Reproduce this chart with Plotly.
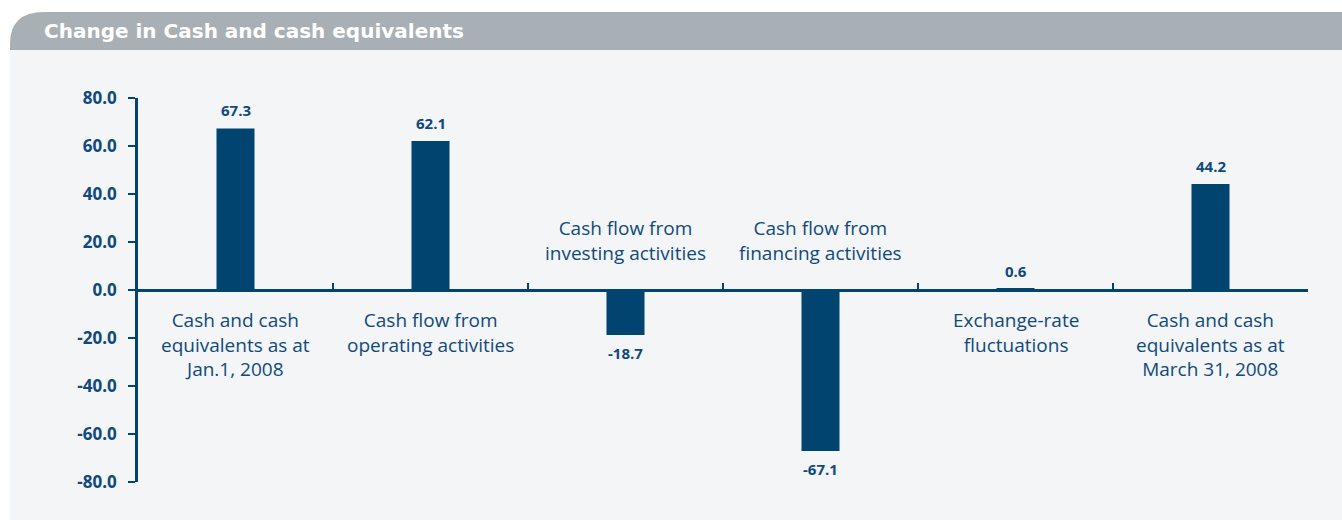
import plotly.graph_objects as go

# ---- data ----
categories = [
    "Cash and cash equivalents as at Jan.1, 2008",
    "Cash flow from operating activities",
    "Cash flow from investing activities",
    "Cash flow from financing activities",
    "Exchange-rate fluctuations",
    "Cash and cash equivalents as at March 31, 2008",
]
category_labels = [
    "Cash and cash<br>equivalents as at<br>Jan.1, 2008",
    "Cash flow from<br>operating activities",
    "Cash flow from<br>investing activities",
    "Cash flow from<br>financing activities",
    "Exchange-rate<br>fluctuations",
    "Cash and cash<br>equivalents as at<br>March 31, 2008",
]
values = [67.3, 62.1, -18.7, -67.1, 0.6, 44.2]
y_ticks = [80, 60, 40, 20, 0, -20, -40, -60, -80]
y_tick_labels = [f"{v:.1f}" for v in y_ticks]
title = "Change in Cash and cash equivalents"

# ---- style ----
W, H = 1342, 520
L, R, T, B = 138, 34, 98, 38
BAR = "#00446f"
TXT = "#104a7a"
HEADER = "#a9b0b5"
PANEL = "#f4f5f7"
FONT = "Open Sans"

pw = W - L - R
ph = H - T - B


def px(x):
    return (x - L) / pw


def py(y):
    return (H - B - y) / ph


fig = go.Figure()
fig.add_trace(go.Bar(
    x=categories, y=values, width=0.195,
    marker=dict(color=BAR, line=dict(width=0)),
    hoverinfo="skip",
))

annotations = []
for c, lab, v in zip(categories, category_labels, values):
    # value label
    annotations.append(dict(
        x=c, y=v, xref="x", yref="y", text=f"{v:.1f}", showarrow=False,
        yanchor="bottom" if v >= 0 else "top", yshift=6 if v >= 0 else -6,
        font=dict(family=FONT, size=15, color=TXT, weight="bold"),
    ))
    # category label
    annotations.append(dict(
        x=c, y=0, xref="x", yref="y", text=lab, showarrow=False,
        yanchor="top" if v >= 0 else "bottom", yshift=-15 if v >= 0 else 22,
        align="center",
        font=dict(family=FONT, size=19, color=TXT),
    ))

annotations.append(dict(
    x=px(42), y=py(31), xref="paper", yref="paper", text=f"<b>{title}</b>",
    showarrow=False, xanchor="left", yanchor="middle",
    font=dict(family="DejaVu Sans", size=20, color="white"),
))

# background panel and header band
x0, x1 = px(10), px(W + 5)
hy0, hy1 = py(50), py(12)
cx = px(44)
header_path = (
    f"M {x0},{hy0} L {x0},{py(44)} Q {x0},{hy1} {cx},{hy1} "
    f"L {x1},{hy1} L {x1},{hy0} Z"
)
shapes = [
    dict(type="rect", xref="paper", yref="paper", x0=x0, x1=x1,
         y0=py(H + 5), y1=hy0, fillcolor=PANEL, line=dict(width=0), layer="below"),
    dict(type="path", xref="paper", yref="paper", path=header_path,
         fillcolor=HEADER, line=dict(width=0), layer="below"),
]

fig.update_layout(
    width=W, height=H,
    margin=dict(l=L, r=R, t=T, b=B, pad=0),
    paper_bgcolor="white", plot_bgcolor="rgba(0,0,0,0)",
    showlegend=False,
    annotations=annotations, shapes=shapes,
    xaxis=dict(
        type="category", range=[-0.5, 5.5], anchor="free", position=0.5,
        showline=True, linecolor=BAR, linewidth=2.5,
        ticks="inside", tickson="boundaries", ticklen=6, tickwidth=2, tickcolor=BAR,
        showticklabels=False, showgrid=False, zeroline=False, fixedrange=True,
    ),
    yaxis=dict(
        range=[-80, 80], tickvals=y_ticks, ticktext=y_tick_labels,
        showline=True, linecolor=BAR, linewidth=2.5,
        ticks="outside", ticklen=7, tickwidth=2, tickcolor=BAR,
        tickfont=dict(family=FONT, size=17, color=TXT, weight="bold"),
        showgrid=False, zeroline=False, ticklabelstandoff=8, fixedrange=True,
    ),
)

fig.write_html("out.html", config={"displayModeBar": False},
               post_script="document.body.style.margin='0';")
